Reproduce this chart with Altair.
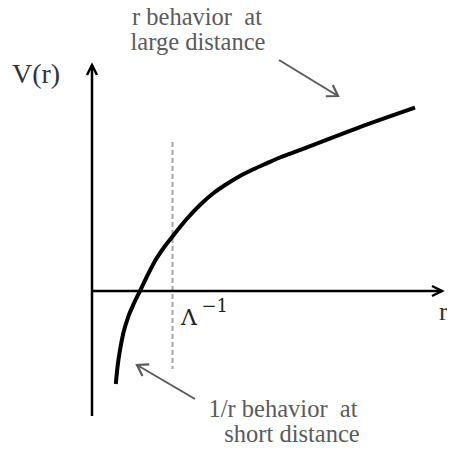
import altair as alt
import pandas as pd

# Schematic units (1 unit ~ 10 px): r horizontal, V vertical
curve_r = [2.38, 2.55, 2.8, 3.13, 3.63, 4.23, 4.8, 5.47, 6.3, 7.3, 8.13, 9.47, 10.8,
           12.13, 13.47, 14.8, 16.13, 17.47, 18.8, 20.63, 26.47, 32.3]
curve_v = [-9.3, -7.6, -5.9, -4.23, -2.57, -1.15, 0.0, 1.4, 3.0, 4.5, 5.55, 7.2, 8.6,
           9.77, 10.7, 11.5, 12.17, 12.77, 13.35, 14.03, 16.27, 18.33]

cutoff_r = 8.05
cutoff_v = [14.9, -7.8]

axis_x_end = 35.0
axis_y_range = [-12.5, 22.6]

W, H = 439, 438
x_dom = [-8.4, (8 + W - 92) / 10]
y_dom = [(291 - 446) / 10, 28.3]

xs = alt.Scale(domain=x_dom, nice=False, zero=False)
ys = alt.Scale(domain=y_dom, nice=False, zero=False)


def X(f):
    return alt.X(f, type="quantitative", scale=xs, axis=None)


def Y(f):
    return alt.Y(f, type="quantitative", scale=ys, axis=None)


curve = alt.Chart(pd.DataFrame({"r": curve_r, "v": curve_v})).mark_line(
    color="black", strokeWidth=4, interpolate="monotone", strokeCap="butt"
).encode(x=X("r"), y=Y("v"))

axes_df = pd.DataFrame({
    "x": [0, 0], "y": [0, axis_y_range[0]],
    "x2": [axis_x_end, 0], "y2": [0, axis_y_range[1]],
})
axes = alt.Chart(axes_df).mark_rule(color="black", strokeWidth=2.5).encode(
    x=X("x"), y=Y("y"), x2="x2", y2="y2"
)

heads_df = pd.DataFrame({"x": [axis_x_end, 0], "y": [0, axis_y_range[1]], "a": [90, 0]})
heads = alt.Chart(heads_df).mark_point(
    shape="M -0.5 1 L 0 0 L 0.5 1", filled=False, color="black", strokeWidth=2.5,
    size=400, opacity=1, strokeJoin="miter"
).encode(x=X("x"), y=Y("y"), angle=alt.Angle("a:Q", scale=None))

dash = alt.Chart(pd.DataFrame({"x": [cutoff_r], "y": [cutoff_v[0]], "y2": [cutoff_v[1]]})).mark_rule(
    color="#a6a6a6", strokeWidth=2, strokeDash=[5, 3]
).encode(x=X("x"), y=Y("y"), y2="y2")

gray = "#5a5a5a"
arr_df = pd.DataFrame({
    "x": [18.7, 10.3], "y": [23.1, -10.8],
    "x2": [24.6, 4.5], "y2": [19.5, -7.4], "a": [121.8, 300.4],
})
arr_lines = alt.Chart(arr_df).mark_rule(color=gray, strokeWidth=2).encode(
    x=X("x"), y=Y("y"), x2="x2", y2="y2"
)
arr_heads = alt.Chart(arr_df).mark_point(
    shape="M -0.65 1 L 0 0 L 0.65 1", filled=False, color=gray, strokeWidth=2.2,
    size=420, opacity=1, strokeJoin="miter"
).encode(x=X("x2"), y=Y("y2"), angle=alt.Angle("a:Q", scale=None))

nb = "\u00a0"
labels_df = pd.DataFrame({
    "t": ["r behavior" + nb + " at", "large distance", "1/r behavior" + nb + " at", "short distance"],
    "x": [10.5, 10.6, 19.1, 20.0],
    "y": [26.6, 24.1, -12.6, -15.1],
})
labels = alt.Chart(labels_df).mark_text(
    font="Liberation Serif", fontSize=24.5, color=gray, align="center", baseline="alphabetic"
).encode(x=X("x"), y=Y("y"), text="t:N")

vr_text = alt.Chart(pd.DataFrame({"t": ["V(r)"], "x": [-5.6], "y": [20.8]})).mark_text(
    font="Liberation Serif", fontSize=28, color="#333333", align="center", baseline="alphabetic"
).encode(x=X("x"), y=Y("y"), text="t:N")
r_text = alt.Chart(pd.DataFrame({"t": ["r"], "x": [34.7], "y": [-2.9]})).mark_text(
    font="Liberation Serif", fontSize=26, color="#333333", align="left", baseline="alphabetic"
).encode(x=X("x"), y=Y("y"), text="t:N")

lam = alt.Chart(pd.DataFrame({"t": ["Λ"], "x": [8.9], "y": [-3.4]})).mark_text(
    font="DejaVu Serif", fontSize=22, color="#222222", align="left", baseline="alphabetic"
).encode(x=X("x"), y=Y("y"), text="t:N")
sup = alt.Chart(pd.DataFrame({"t": ["−1"], "x": [10.95], "y": [-2.1]})).mark_text(
    font="DejaVu Serif", fontSize=18, color="#222222", align="left", baseline="alphabetic"
).encode(x=X("x"), y=Y("y"), text="t:N")

chart = alt.layer(
    dash, axes, heads, curve, arr_lines, arr_heads, labels, vr_text, r_text, lam, sup
).properties(
    width=W, height=H, padding=0, autosize=alt.AutoSizeParams(type="none"), background="white"
).configure_view(stroke=None)

chart.save("out.html", embed_options={"renderer": "svg", "actions": False})
